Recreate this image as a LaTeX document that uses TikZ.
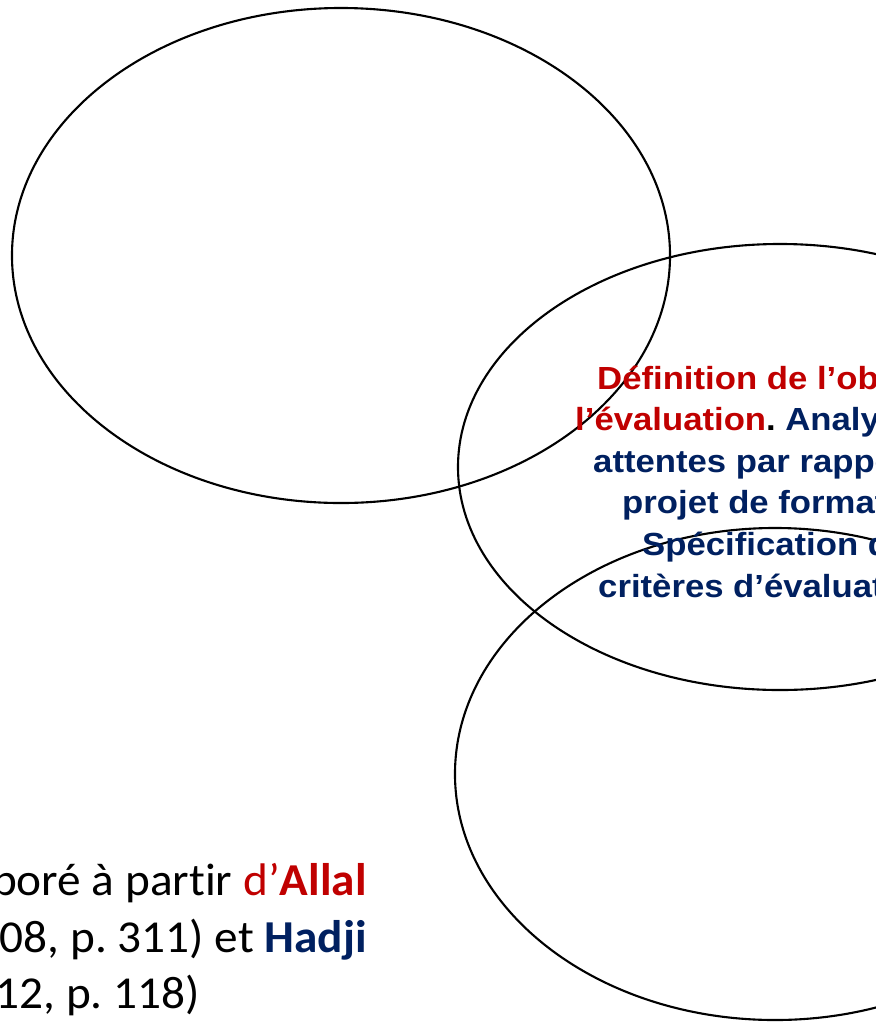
\documentclass[tikz,border=0pt]{standalone}
\usepackage{fontspec}
\setmainfont[FakeStretch=1.035,Ligatures={TeX,NoCommon}]{Carlito}
\newfontfamily\arialfont[FakeStretch=1.085]{Liberation Sans}
\usetikzlibrary{shapes.geometric}
\definecolor{darkred}{HTML}{C00000}
\definecolor{darkblue}{HTML}{002060}
\frenchspacing
\begin{document}
\begin{tikzpicture}[x=0.03cm,y=-0.03cm,
    oval/.style={draw, ellipse, line width=1.8pt, inner sep=0pt},
    txt/.style={inner sep=0pt, anchor=base west, text=darkblue,
        font=\arialfont\bfseries\fontsize{27.3}{35}\selectfont},
    src/.style={inner sep=0pt, anchor=base east,
        font=\fontsize{39}{48}\selectfont}]
    \useasboundingbox (0,0) rectangle (876,1022);
    \clip (0,0) rectangle (876,1022);
    \node[oval, minimum width=19.74cm, minimum height=14.85cm] (upper) at (341,255.5) {};
    \node[oval, minimum width=19.32cm, minimum height=13.38cm] (middle) at (780,467) {};
    \node[oval, minimum width=19.2cm, minimum height=14.76cm] (lower) at (775,774) {};
    % text of the middle oval
    \node[txt] (l1) at (597,389) {\color{darkred}Définition de l’objet de};
    \node[txt] (l2) at (575,430.6) {{\color{darkred}l’évaluation}{\color{black}.} Analyse des};
    \node[txt] (l3) at (593,472.2) {attentes par rapport au};
    \node[txt] (l4) at (622,513.8) {projet de formation.};
    \node[txt] (l5) at (642,555.4) {Spécification des};
    \node[txt] (l6) at (598,597) {critères d’évaluation.};
    % source
    \node[src] (s1) at (367,895) {Élaboré à partir {\color{darkred}d’\textbf{Allal}}};
    \node[src] (s2) at (367,952) {(2008, p. 311) et {\color{darkblue}\textbf{Hadji}}};
    \node[src] (s3) at (200,1008) {(2012, p. 118)};
\end{tikzpicture}
\end{document}
